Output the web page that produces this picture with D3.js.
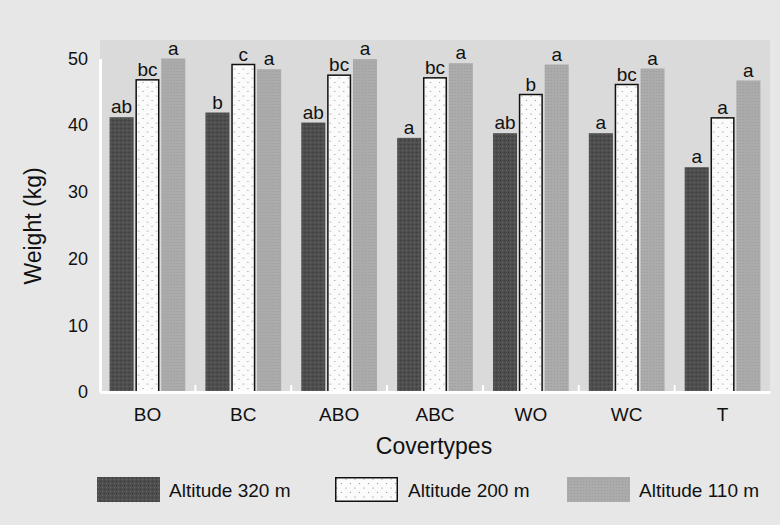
<!DOCTYPE html>
<html>
<head>
<meta charset="utf-8">
<script src="https://cdn.jsdelivr.net/npm/d3@7"></script>
<style>
  body { margin: 0; background: #e7e7e7; }
  svg { display: block; font-family: "Liberation Sans", Arial, sans-serif; }
</style>
</head>
<body>
<div id="chart"></div>
<script>
// covertypes on the x axis
const covertypes = ['BO', 'BC', 'ABO', 'ABC', 'WO', 'WC', 'T'];
const altitudes = ['Altitude 320 m', 'Altitude 200 m', 'Altitude 110 m'];

// weight (kg) per covertype, one array per altitude
const alt320 = [41.2, 41.9, 40.4, 38.1, 38.8, 38.8, 33.7];
const alt200 = [46.8, 49.1, 47.5, 47.1, 44.6, 46.1, 41.1];
const alt110 = [50.0, 48.4, 49.9, 49.3, 49.1, 48.5, 46.7];

// significance letters
const let320 = ['ab', 'b', 'ab', 'a', 'ab', 'a', 'a'];
const let200 = ['bc', 'c', 'bc', 'bc', 'b', 'bc', 'a'];
const let110 = ['a', 'a', 'a', 'a', 'a', 'a', 'a'];

const yTicks = [0, 10, 20, 30, 40, 50];

const width = 780, height = 525;
const margin = {top: 40, right: 10, bottom: 133, left: 100};

const series = [
  {key: altitudes[0], values: alt320, letters: let320, fill: 'url(#darkFill)', stroke: 'none'},
  {key: altitudes[1], values: alt200, letters: let200, fill: 'url(#dotFill)', stroke: '#111'},
  {key: altitudes[2], values: alt110, letters: let110, fill: 'url(#grayFill)', stroke: 'none'}
];

const svg = d3.select('#chart').append('svg')
    .attr('width', width)
    .attr('height', height);

// fill patterns to mimic the printed screens
const defs = svg.append('defs');

const dark = defs.append('pattern').attr('id', 'darkFill')
    .attr('width', 4).attr('height', 4).attr('patternUnits', 'userSpaceOnUse');
dark.append('rect').attr('width', 4).attr('height', 4).attr('fill', '#4e4e4e');
dark.append('rect').attr('x', 1).attr('y', 2).attr('width', 1).attr('height', 1).attr('fill', '#6c6c6c');
dark.append('rect').attr('x', 3).attr('y', 0).attr('width', 1).attr('height', 1).attr('fill', '#383838');

const dots = defs.append('pattern').attr('id', 'dotFill')
    .attr('width', 9).attr('height', 9).attr('patternUnits', 'userSpaceOnUse');
dots.append('rect').attr('width', 9).attr('height', 9).attr('fill', '#fbfbfb');
dots.append('circle').attr('cx', 2).attr('cy', 2).attr('r', 0.6).attr('fill', '#777');
dots.append('circle').attr('cx', 6.5).attr('cy', 6.5).attr('r', 0.6).attr('fill', '#888');

const gray = defs.append('pattern').attr('id', 'grayFill')
    .attr('width', 3).attr('height', 3).attr('patternUnits', 'userSpaceOnUse');
gray.append('rect').attr('width', 3).attr('height', 3).attr('fill', '#ababab');
gray.append('rect').attr('x', 1).attr('y', 1).attr('width', 1).attr('height', 1).attr('fill', '#9c9c9c');

const plotW = width - margin.left - margin.right;
const plotH = height - margin.top - margin.bottom;

const g = svg.append('g').attr('transform', `translate(${margin.left},${margin.top})`);

const x0 = d3.scaleBand()
    .domain(covertypes)
    .range([0, plotW])
    .paddingInner(0.21)
    .paddingOuter(0.1);

const x1 = d3.scaleBand()
    .domain(altitudes)
    .range([0, x0.bandwidth()])
    .paddingInner(0.07);

const y = d3.scaleLinear()
    .domain([0, 50])
    .range([plotH, plotH - 333.5]);

// plot background
g.append('rect')
    .attr('x', 0).attr('y', 0)
    .attr('width', plotW).attr('height', plotH)
    .attr('fill', '#dadada');

// bars
const groups = g.selectAll('g.group')
    .data(covertypes)
    .join('g')
    .attr('class', 'group')
    .attr('transform', d => `translate(${x0(d)},0)`);

groups.selectAll('rect.bar')
    .data((d, i) => series.map(s => ({s, v: s.values[i], l: s.letters[i]})))
    .join('rect')
    .attr('class', 'bar')
    .attr('x', d => x1(d.s.key) + (d.s.stroke === 'none' ? 0 : 0.75))
    .attr('width', d => x1.bandwidth() - (d.s.stroke === 'none' ? 0 : 1.5))
    .attr('y', d => y(d.v))
    .attr('height', d => y(0) - y(d.v))
    .attr('fill', d => d.s.fill)
    .attr('stroke', d => d.s.stroke)
    .attr('stroke-width', 1.5);

groups.selectAll('text.letter')
    .data((d, i) => series.map(s => ({s, v: s.values[i], l: s.letters[i]})))
    .join('text')
    .attr('class', 'letter')
    .attr('x', d => x1(d.s.key) + x1.bandwidth() / 2)
    .attr('y', d => y(d.v) - 4)
    .attr('text-anchor', 'middle')
    .attr('font-size', 19)
    .attr('fill', '#111')
    .text(d => d.l);

// axes: white lines as in the print
const yAxis = g.append('g')
    .call(d3.axisLeft(y).tickValues(yTicks).tickSize(0).tickPadding(12));
yAxis.select('.domain').attr('stroke', '#fff').attr('stroke-width', 3);
yAxis.selectAll('text').attr('font-size', 18).attr('fill', '#111');

const xAxis = g.append('g')
    .attr('transform', `translate(0,${plotH})`)
    .call(d3.axisBottom(x0).tickSize(0).tickPadding(16));
xAxis.select('.domain').attr('stroke', '#fff').attr('stroke-width', 3);
xAxis.selectAll('text').attr('font-size', 19).attr('fill', '#111');

// small white ticks between groups
g.selectAll('line.sep')
    .data(covertypes.slice(1))
    .join('line')
    .attr('class', 'sep')
    .attr('x1', d => x0(d) - x0.step() * x0.paddingInner() / 2)
    .attr('x2', d => x0(d) - x0.step() * x0.paddingInner() / 2)
    .attr('y1', plotH - 7).attr('y2', plotH)
    .attr('stroke', '#fff').attr('stroke-width', 2);

// axis titles
svg.append('text')
    .attr('transform', `translate(41,226) rotate(-90)`)
    .attr('text-anchor', 'middle')
    .attr('font-size', 23)
    .attr('fill', '#111')
    .text('Weight (kg)');

svg.append('text')
    .attr('x', 434)
    .attr('y', 454)
    .attr('text-anchor', 'middle')
    .attr('font-size', 23)
    .attr('fill', '#111')
    .text('Covertypes');

// legend
const legendX = [97, 335, 567];
const legend = svg.selectAll('g.legend')
    .data(series)
    .join('g')
    .attr('class', 'legend')
    .attr('transform', (d, i) => `translate(${legendX[i]},477)`);

legend.append('rect')
    .attr('x', d => d.stroke === 'none' ? 0 : 0.75)
    .attr('y', d => d.stroke === 'none' ? 0 : 0.75)
    .attr('width', d => d.stroke === 'none' ? 63 : 61.5)
    .attr('height', d => d.stroke === 'none' ? 25 : 23.5)
    .attr('fill', d => d.fill)
    .attr('stroke', d => d.stroke)
    .attr('stroke-width', 1.5);

legend.append('text')
    .attr('x', (d, i) => i === 2 ? 72 : i === 1 ? 73 : 72)
    .attr('y', 20)
    .attr('font-size', 19)
    .attr('fill', '#111')
    .text(d => d.key);
</script>
</body>
</html>
